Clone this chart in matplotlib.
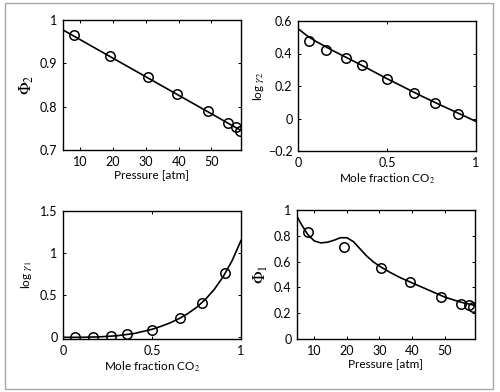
import matplotlib
matplotlib.use("Agg")
from matplotlib import pyplot as plt
from matplotlib.patches import Rectangle

plt.rcParams["font.family"] = "Lato"
plt.rcParams["mathtext.fontset"] = "stix"
plt.rcParams["font.size"] = 8.5
plt.rcParams["xtick.labelsize"] = 9
plt.rcParams["ytick.labelsize"] = 9

# measured pressures and fitted curves
pressure = [8, 19, 30.5, 39.5, 49, 55, 57.5, 58.8]
phi2_pts = [0.965, 0.918, 0.868, 0.829, 0.789, 0.762, 0.752, 0.745]
phi2_line_x = [4.7, 59.0]
phi2_line_y = [0.977, 0.745]

phi1_pts = [0.83, 0.715, 0.55, 0.44, 0.325, 0.275, 0.265, 0.25]
phi1_curve_x = [4.7, 6, 8, 10, 12, 14, 16, 18, 20, 22, 24, 26, 28, 30, 33, 36, 40, 45, 50, 55, 59]
phi1_curve_y = [0.95, 0.89, 0.81, 0.76, 0.745, 0.75, 0.765, 0.785, 0.785, 0.755, 0.70, 0.645, 0.60, 0.565, 0.52, 0.48, 0.435, 0.38, 0.325, 0.285, 0.262]

# mole fraction CO2 and activity coefficients
xco2 = [0.06, 0.16, 0.27, 0.36, 0.5, 0.65, 0.77, 0.9]
lg2_pts = [0.48, 0.42, 0.37, 0.33, 0.245, 0.16, 0.095, 0.03]
lg2_curve_x = [0, 0.05, 0.1, 0.2, 0.3, 0.4, 0.5, 0.6, 0.7, 0.8, 0.9, 1.0]
lg2_curve_y = [0.553, 0.51, 0.475, 0.415, 0.36, 0.303, 0.245, 0.19, 0.135, 0.083, 0.033, -0.018]

x1co2 = [0.07, 0.17, 0.27, 0.36, 0.5, 0.66, 0.78, 0.91]
lg1_pts = [0.0, 0.005, 0.015, 0.035, 0.085, 0.225, 0.41, 0.76]
lg1_curve_x = [0, 0.1, 0.2, 0.3, 0.4, 0.5, 0.55, 0.6, 0.65, 0.7, 0.75, 0.8, 0.85, 0.9, 0.95, 1.0]
lg1_curve_y = [0.0, 0.0, 0.005, 0.018, 0.045, 0.095, 0.13, 0.17, 0.22, 0.28, 0.355, 0.45, 0.57, 0.72, 0.91, 1.15]

fig = plt.figure(figsize=(5.0, 3.92), dpi=100)
W, H = 500, 392

def make_ax(l, t, r, b):
    ax = fig.add_axes([l / W, 1 - b / H, (r - l) / W, (b - t) / H])
    ax.tick_params(direction="in", top=True, right=True, length=2.5, width=0.7, pad=4)
    for s in ax.spines.values():
        s.set_linewidth(1.0)
    return ax

mk = dict(marker="o", mfc="none", mec="black", ms=6.8, mew=1.1, ls="none")

ax1 = make_ax(63, 20, 241, 150)
ax1.plot(phi2_line_x, phi2_line_y, color="black", lw=1.2)
ax1.plot(pressure, phi2_pts, **mk)
ax1.set_xlim(4.7, 59.0)
ax1.set_ylim(0.7, 1.0)
ax1.set_xticks([10, 20, 30, 40, 50])
ax1.set_yticks([0.7, 0.8, 0.9, 1.0])
ax1.set_yticklabels(["0.7", "0.8", "0.9", "1"])
ax1.set_xlabel("Pressure [atm]", labelpad=2)
ax1.set_ylabel(r"$\Phi_2$", fontsize=12, labelpad=3)

ax2 = make_ax(298, 21, 476, 151)
ax2.plot(lg2_curve_x, lg2_curve_y, color="black", lw=1.2)
ax2.plot(xco2, lg2_pts, **mk)
ax2.set_xlim(0, 1)
ax2.set_ylim(-0.2, 0.6)
ax2.set_xticks([0, 0.5, 1])
ax2.set_xticklabels(["0", "0.5", "1"])
ax2.set_yticks([-0.2, 0, 0.2, 0.4, 0.6])
ax2.set_yticklabels(["\u22120.2", "0", "0.2", "0.4", "0.6"])
ax2.set_xlabel(r"Mole fraction CO$_2$", labelpad=2)
ax2.set_ylabel(r"log $\gamma_2$", labelpad=1)

ax3 = make_ax(63, 211, 241, 339)
ax3.plot(lg1_curve_x, lg1_curve_y, color="black", lw=1.2)
ax3.plot(x1co2, lg1_pts, **mk)
ax3.set_xlim(0, 1)
ax3.set_ylim(-0.02, 1.5)
ax3.set_xticks([0, 0.5, 1])
ax3.set_xticklabels(["0", "0.5", "1"])
ax3.set_yticks([0, 0.5, 1, 1.5])
ax3.set_yticklabels(["0", "0.5", "1", "1.5"])
ax3.set_xlabel(r"Mole fraction CO$_2$", labelpad=2)
ax3.set_ylabel(r"log $\gamma_1$", labelpad=4)

ax4 = make_ax(297, 210, 475, 339)
ax4.plot(phi1_curve_x, phi1_curve_y, color="black", lw=1.2)
ax4.plot(pressure, phi1_pts, **mk)
ax4.set_xlim(4.7, 59.3)
ax4.set_ylim(0, 1)
ax4.set_xticks([10, 20, 30, 40, 50])
ax4.set_yticks([0, 0.2, 0.4, 0.6, 0.8, 1.0])
ax4.set_yticklabels(["0", "0.2", "0.4", "0.6", "0.8", "1"])
ax4.set_xlabel("Pressure [atm]", labelpad=2)
ax4.set_ylabel(r"$\Phi_1$", fontsize=12, labelpad=3)

# light grey frame around the whole figure
fig.patches.append(Rectangle((5 / W, 1 - 389 / H), 488 / W, 386 / H,
                             transform=fig.transFigure, fill=False,
                             edgecolor="#a8a8a8", lw=1.0))

fig.savefig("out.png", dpi=100)
